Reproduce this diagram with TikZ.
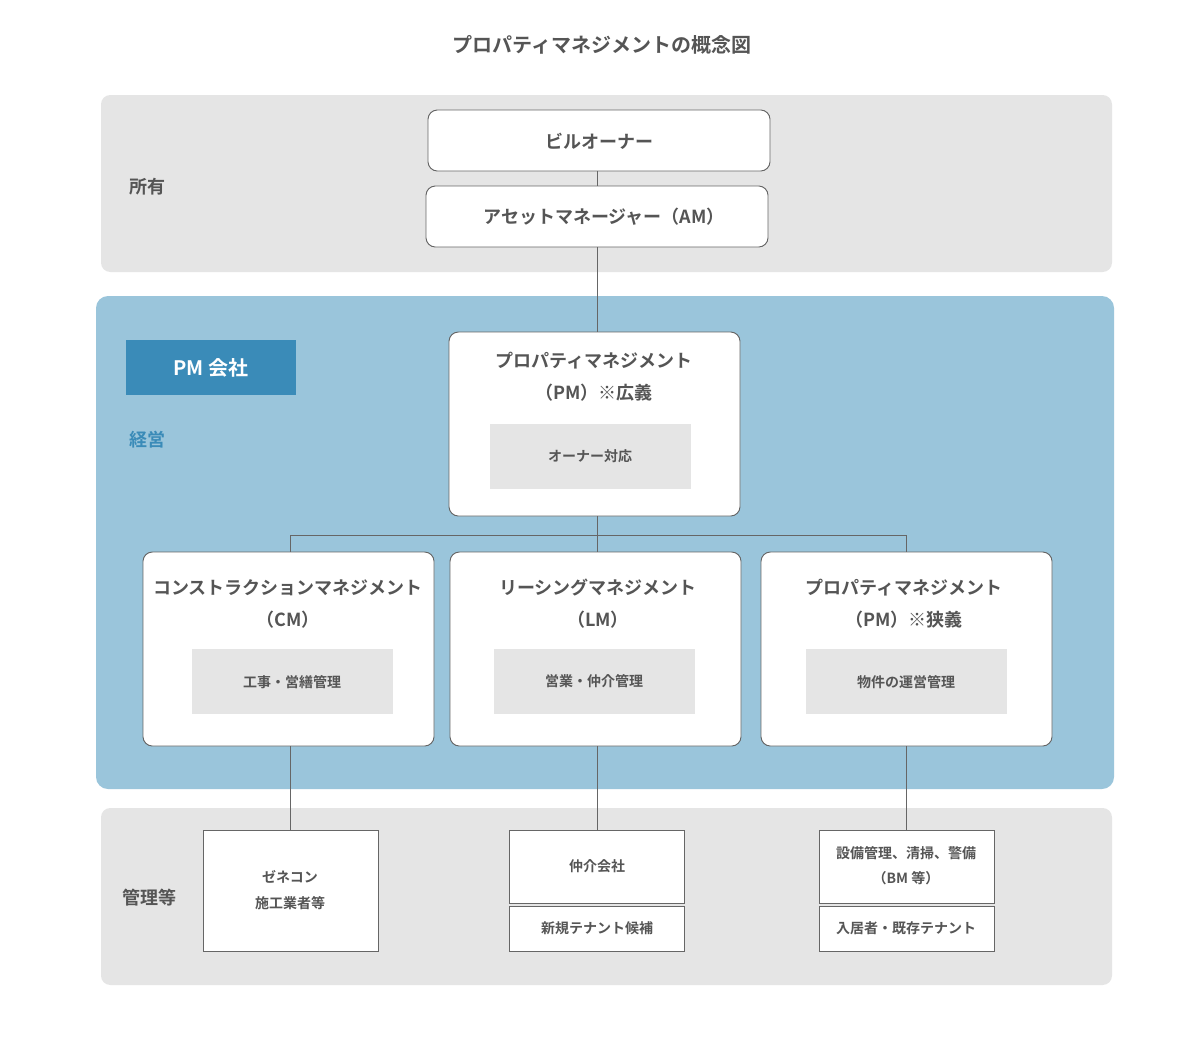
\documentclass[tikz,border=0pt]{standalone}
\usepackage{fontspec}
\setmainfont{Noto Sans CJK JP}[BoldFont={Noto Sans CJK JP Bold}]
\definecolor{band}{HTML}{E5E5E5}
\definecolor{blu}{HTML}{9AC5DB}
\definecolor{dblu}{HTML}{3A8BB8}
\definecolor{tx}{HTML}{555555}
\definecolor{ln}{HTML}{666666}
\begin{document}
\begin{tikzpicture}[x=0.75pt,y=-0.75pt,
  every node/.style={text=tx,font=\bfseries},
  wbox/.style={draw=ln,fill=white,rounded corners=7pt,line width=0.7pt},
  sbox/.style={draw=ln,fill=white,line width=0.7pt},
  gbox/.style={fill=band},
  conn/.style={draw=ln,line width=0.7pt},
  big/.style={font=\bfseries\fontsize{13.5}{20}\selectfont},
  sml/.style={font=\bfseries\fontsize{10.5}{15}\selectfont,align=center}]
\useasboundingbox[fill=white] (0,0) rectangle (1203,1043);
\node[font=\bfseries\fontsize{15}{18}\selectfont] (title) at (602,45) {プロパティマネジメントの概念図};
\fill[band,rounded corners=7pt] (101,95) rectangle (1112,272);
\fill[blu,rounded corners=9pt] (96,296) rectangle (1114,789);
\fill[band,rounded corners=7pt] (101,808) rectangle (1112,985);
\node[big] (own) at (147,187) {所有};
\node[big,text=dblu] (kei) at (147,440) {経営};
\node[big] (kan) at (149,898) {管理等};
\fill[dblu] (126,340) rectangle (296,395);
\node[font=\bfseries\fontsize{15}{18}\selectfont,text=white] (pmc) at (211,368) {PM 会社};
% top
\draw[wbox] (428,110) rectangle (770,171);
\node[big] (bo) at (599,141) {ビルオーナー};
\draw[wbox] (426,186) rectangle (768,247);
\node[big] (am) at (604,217) {アセットマネージャー（AM）};
\coordinate (bot1) at (597,171); \coordinate (top2) at (597,186);
\draw[conn] (bot1) -- (top2);
\coordinate (bot2) at (597,247); \coordinate (pmt) at (597,332);
\draw[conn] (bot2) -- (pmt);
% PM wide
\draw[wbox] (449,332) rectangle (740,516);
\node[big] (pm1) at (594,361) {プロパティマネジメント};
\node[big] (pm2) at (594,393) {（PM）※広義};
\fill[band] (490,424) rectangle (691,489);
\node[sml] (ow) at (590,456) {オーナー対応};
% tree
\coordinate (pmb) at (597,516); \coordinate (j) at (597,535);
\coordinate (l) at (290,535); \coordinate (r) at (906,535);
\coordinate (lt) at (290,552); \coordinate (mt) at (597,552); \coordinate (rt) at (906,552);
\draw[conn] (pmb) -- (mt);
\draw[conn] (lt) -- (l) -- (r) -- (rt);
% three boxes
\foreach \xa/\xb/\ga/\nm in {143/434/192/a,450/741/494/b,761/1052/806/c}{
  \draw[wbox] (\xa,552) rectangle (\xb,746);
  \fill[band] (\ga,649) rectangle ({\ga+201},714);
}
\node[big] (cm1) at (288,588) {コンストラクションマネジメント};
\node[big] (cm2) at (288,620) {（CM）};
\node[sml] (cm3) at (292,682) {工事・営繕管理};
\node[big] (lm1) at (598,588) {リーシングマネジメント};
\node[big] (lm2) at (598,620) {（LM）};
\node[sml] (lm3) at (594,681) {営業・仲介管理};
\node[big] (pn1) at (904,588) {プロパティマネジメント};
\node[big] (pn2) at (904,620) {（PM）※狭義};
\node[sml] (pn3) at (906,682) {物件の運営管理};
% bottom
\draw[conn] (290,746) -- (290,830);
\draw[conn] (597,746) -- (597,830);
\draw[conn] (906,746) -- (906,830);
\draw[sbox] (203,830) rectangle (378,951);
\node[sml] (g) at (290,890) {ゼネコン\\[4pt]施工業者等};
\draw[sbox] (509,830) rectangle (684,903);
\node[sml] (n1) at (597,866) {仲介会社};
\draw[sbox] (509,906) rectangle (684,951);
\node[sml] (n2) at (597,928) {新規テナント候補};
\draw[sbox] (819,830) rectangle (994,903);
\node[sml] (b1) at (906,866) {設備管理、清掃、警備\\[4pt]（BM 等）};
\draw[sbox] (819,906) rectangle (994,951);
\node[sml] (b2) at (906,928) {入居者・既存テナント};
\end{tikzpicture}
\end{document}
